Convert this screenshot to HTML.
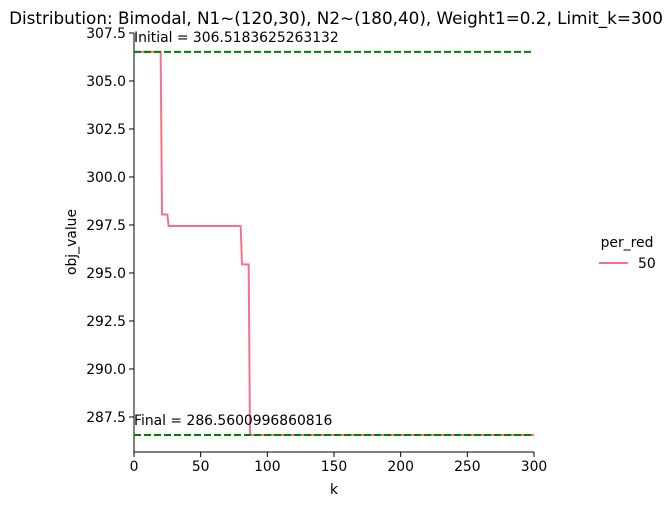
<!DOCTYPE html>
<html><head><meta charset="utf-8"><style>
body{margin:0;background:#fff;font-family:"Liberation Sans","DejaVu Sans",sans-serif}
svg text{font-family:"DejaVu Sans","Liberation Sans",sans-serif;font-size:13.9px;fill:#000}
</style></head><body>
<svg id="chart" width="668" height="507">
<text x="336" y="24" text-anchor="middle" style="font-size:16.8px">Distribution: Bimodal, N1~(120,30), N2~(180,40), Weight1=0.2, Limit_k=300</text>
<g id="axes"></g>
<g id="marks"></g>
<text x="76" y="242" text-anchor="middle" transform="rotate(-90 76 242)">obj_value</text>
<text x="334" y="494" text-anchor="middle">k</text>
<text x="627" y="247" text-anchor="middle">per_red</text>
<line x1="599" y1="263" x2="628" y2="263" stroke="#f77189" stroke-width="2"/>
<text x="638" y="268">50</text>
</svg>
<script>
const kValues=[0,20,21,25,26,80,81,86,87,300];
const objValues=[306.518,306.518,298.05,298.05,297.45,297.45,295.45,295.45,286.56,286.56];
const xTicks=[0,50,100,150,200,250,300];
const yTicks=[287.5,290.0,292.5,295.0,297.5,300.0,302.5,305.0,307.5];
const initialValue=306.5183625263132, finalValue=286.5600996860816;
const X0=134,X1=534,Yt=33,Yb=452;
const xs=k=>X0+(k-0)/300*(X1-X0);
const ys=v=>Yt+(307.5-v)*19.2;
const NS="http://www.w3.org/2000/svg";
const ax=document.getElementById('axes'), mk=document.getElementById('marks');
function mkEl(t,a,p){const e=document.createElementNS(NS,t);for(const k in a)e.setAttribute(k,a[k]);p.appendChild(e);return e;}
let e=mkEl('line',{x1:X0,y1:Yt,x2:X0,y2:Yb,stroke:'#000','stroke-width':1},ax);


e=mkEl('line',{x1:X0,y1:Yb,x2:X1,y2:Yb,stroke:'#000','stroke-width':1},ax);


xTicks.forEach(t=>{const x=xs(t);
 mkEl('line',{x1:x,y1:Yb,x2:x,y2:Yb+5,stroke:'#000'},ax);
 const tx=mkEl('text',{x:x,y:Yb+19,'text-anchor':'middle'},ax);tx.textContent=t;
 
 });
yTicks.forEach(t=>{const y=ys(t);
 mkEl('line',{x1:X0-5,y1:y,x2:X0,y2:y,stroke:'#000'},ax);
 const tx=mkEl('text',{x:X0-8,y:y+5,'text-anchor':'end'},ax);tx.textContent=t.toFixed(1);
 
 });
e=mkEl('polyline',{points:kValues.map((k,i)=>xs(k)+','+ys(objValues[i])).join(' '),fill:'none',stroke:'#f77189','stroke-width':2},mk);


e=mkEl('line',{x1:X0,y1:ys(initialValue),x2:X1,y2:ys(initialValue),stroke:'#008000','stroke-width':2,'stroke-dasharray':'7,3'},mk);


e=mkEl('line',{x1:X0,y1:ys(finalValue),x2:X1,y2:ys(finalValue),stroke:'#008000','stroke-width':2,'stroke-dasharray':'7,3'},mk);


e=mkEl('text',{x:X0,y:ys(initialValue)-10},mk);e.textContent='Initial = '+initialValue;


e=mkEl('text',{x:X0,y:ys(finalValue)-10},mk);e.textContent='Final = '+finalValue;


</script>
</body></html>
